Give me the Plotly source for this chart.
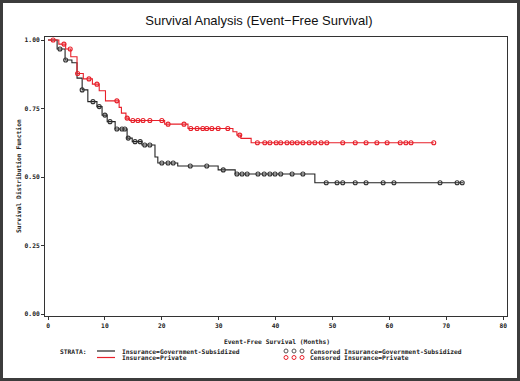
import numpy as np
import plotly.graph_objects as go

# ---- data ----
gov_times = [0, 1.6, 3.0, 4.2, 5.1, 6.0, 7.0, 8.6, 9.5, 10.4, 11.8, 13.9, 14.8, 16.5,
             18.8, 19.3, 22.8, 29.9, 32.9, 46.9]
gov_surv = [1.0, 0.967, 0.927, 0.917, 0.861, 0.818, 0.775, 0.757, 0.726, 0.702, 0.675,
            0.642, 0.629, 0.617, 0.573, 0.551, 0.540, 0.526, 0.511, 0.479]
gov_end = 73.0
gov_censored = [2.1, 3.1, 6.0, 7.9, 9.0, 10.0, 10.9, 12.1, 13.0, 13.5, 14.1, 15.3, 16.2,
                17.0, 17.9, 20.0, 21.1, 22.0, 25.0, 27.9, 30.8, 33.2, 34.1, 35.0, 36.9,
                38.0, 39.0, 39.9, 40.9, 42.9, 44.8, 48.9, 50.8, 51.8, 54.0, 55.9, 58.9,
                60.8, 68.9, 71.9, 72.8]

priv_times = [0, 1.9, 3.1, 4.0, 5.1, 6.2, 7.8, 9.0, 10.1, 12.5, 12.9, 13.7, 14.3, 20.5,
              24.6, 32.5, 33.2, 33.9, 35.7]
priv_surv = [1.0, 0.985, 0.967, 0.939, 0.878, 0.858, 0.839, 0.815, 0.778, 0.754, 0.733,
             0.715, 0.706, 0.693, 0.677, 0.665, 0.653, 0.641, 0.625]
priv_end = 67.8
priv_censored = [0.9, 2.8, 3.9, 5.2, 7.2, 8.6, 12.1, 13.9, 14.9, 15.8, 16.7, 17.9, 20.0,
                 21.1, 23.9, 25.1, 26.2, 27.2, 27.9, 28.8, 29.9, 31.6, 33.7, 36.8, 38.1,
                 39.0, 40.1, 40.9, 42.0, 42.9, 43.8, 44.8, 45.9, 46.9, 48.0, 49.0, 51.8,
                 54.0, 55.9, 57.8, 59.6, 61.9, 62.9, 63.8, 67.8]

x_ticks = [0, 10, 20, 30, 40, 50, 60, 70, 80]
y_ticks = [0.0, 0.25, 0.50, 0.75, 1.0]

title_text = "Survival Analysis (Event\u2212Free Survival)"
x_title = "Event-Free Survival (Months)"
y_title = "Survival Distribution Function"
legend_labels = ["Insurance=Government-Subsidized", "Insurance=Private"]
censor_labels = ["Censored Insurance=Government-Subsidized", "Censored Insurance=Private"]

BLACK = "#222222"
RED = "#e8202a"
MONO = "DejaVu Sans Mono"
FS = 6.3


def step_at(times, surv, t):
    idx = np.searchsorted(np.array(times), t, side="right") - 1
    return [surv[i] for i in idx]


W, H = 520, 381
ML, MR, MT, MB = 45, 13, 37, 65
PW, PH = W - ML - MR, H - MT - MB


def px(x):
    return (x - ML) / PW


def py(y):
    return (H - MB - y) / PH


fig = go.Figure()

for times, surv, end, color in [(gov_times, gov_surv, gov_end, BLACK),
                                (priv_times, priv_surv, priv_end, RED)]:
    fig.add_trace(go.Scatter(x=list(times) + [end], y=list(surv) + [surv[-1]],
                             mode="lines", line=dict(color=color, width=1.1, shape="hv"),
                             hoverinfo="skip", showlegend=False))

for times, surv, cens, color in [(gov_times, gov_surv, gov_censored, "#333333"),
                                 (priv_times, priv_surv, priv_censored, RED)]:
    fig.add_trace(go.Scatter(x=cens, y=step_at(times, surv, cens), mode="markers",
                             marker=dict(symbol="circle-open", size=4, color=color,
                                         line=dict(width=1.1, color=color)),
                             showlegend=False))

tfont = dict(family=MONO, size=FS, color="#222222", weight="bold")
axis_common = dict(showline=True, linecolor="#333333", linewidth=1, mirror=True,
                   ticks="outside", ticklen=3, tickcolor="#333333", showgrid=False,
                   zeroline=False, tickfont=tfont)

fig.update_xaxes(range=[-0.53, 80.67], tickvals=x_ticks, ticktext=[str(v) for v in x_ticks],
                 **axis_common)
fig.update_yaxes(range=[-0.0073, 1.011], tickvals=y_ticks,
                 ticktext=["%.2f" % v for v in y_ticks], **axis_common)

ann = [
    dict(text=x_title, x=px(277), y=py(341)),
    dict(text=y_title, x=px(18), y=py(176), textangle=-90),
    dict(text="STRATA:", x=px(58), y=py(351.5), xanchor="left"),
    dict(text=legend_labels[0], x=px(120), y=py(351), xanchor="left"),
    dict(text=legend_labels[1], x=px(120), y=py(357.5), xanchor="left"),
    dict(text=censor_labels[0], x=px(308), y=py(351), xanchor="left"),
    dict(text=censor_labels[1], x=px(308), y=py(357.5), xanchor="left"),
]
annotations = []
for a in ann:
    d = dict(xref="paper", yref="paper", showarrow=False, font=tfont, yanchor="middle")
    d.setdefault("xanchor", "center")
    d.update(a)
    annotations.append(d)

shapes = [
    dict(type="line", xref="paper", yref="paper", x0=px(97), x1=px(115), y0=py(351), y1=py(351),
         line=dict(color=BLACK, width=1.2)),
    dict(type="line", xref="paper", yref="paper", x0=px(97), x1=px(115), y0=py(357.5),
         y1=py(357.5), line=dict(color=RED, width=1.2)),
    dict(type="rect", xref="paper", yref="paper", x0=px(1.5), x1=px(518.5), y0=py(1.5),
         y1=py(379.5), line=dict(color="#3c3c3c", width=3)),
]
for cx in [286, 294, 302]:
    for cy, col in [(351, "#555555"), (357.5, RED)]:
        shapes.append(dict(type="circle", xref="paper", yref="paper",
                           x0=px(cx - 2), x1=px(cx + 2), y0=py(cy - 2), y1=py(cy + 2),
                           line=dict(color=col, width=1)))

fig.update_layout(
    width=W, height=H,
    margin=dict(l=ML, r=MR, t=MT, b=MB),
    paper_bgcolor="white", plot_bgcolor="white",
    title=dict(text=title_text, x=0.498, xanchor="center", y=1 - 20 / H, yanchor="middle",
               font=dict(family="Liberation Sans", size=13, color="#111111")),
    annotations=annotations, shapes=shapes, showlegend=False,
)

fig.write_html("out.html", config={"displayModeBar": False},
               post_script="document.body.style.margin='0';document.body.style.overflow='hidden';")
